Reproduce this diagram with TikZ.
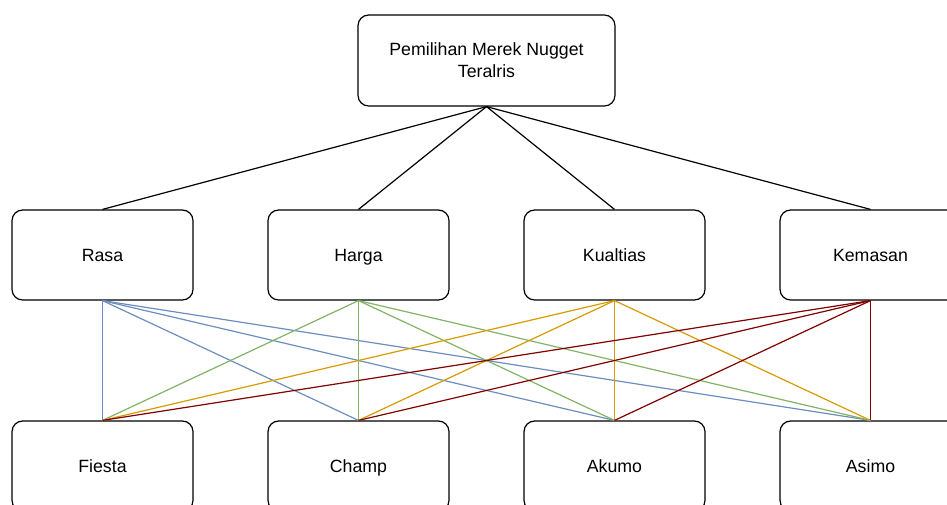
\documentclass[tikz,border=0pt]{standalone}
\usepackage{fontspec}
\setmainfont{Liberation Sans}
\usepackage{xcolor}
\usetikzlibrary{positioning}

\definecolor{rasaclr}{HTML}{6C8EBF}
\definecolor{hargaclr}{HTML}{82B366}
\definecolor{kualclr}{HTML}{D79B00}
\definecolor{kemasclr}{HTML}{800000}

\begin{document}
\begin{tikzpicture}[
  x=0.75pt, y=-0.75pt,
  font=\fontsize{13.3}{16.5}\selectfont,
  goal/.style={draw=black, rounded corners=8pt, line width=0.9pt, align=center,
    minimum width=192.75pt, minimum height=68.25pt, fill=white, inner sep=0pt},
  crit/.style={draw=black, rounded corners=8pt, line width=0.9pt, align=center,
    minimum width=135.75pt, minimum height=67.5pt, fill=white, inner sep=0pt,
    text height=0.92em, text depth=0pt},
  link/.style={line width=0.9pt},
  node distance=55.35pt
]
\useasboundingbox (0,0) rectangle (947,504);
\clip (0,0) rectangle (947,504);

% goal
\node[goal] (goal) at (486.5,60.5) {Pemilihan Merek Nugget\\Teralris};

% criteria
\node[crit] (rasa) at (102.5,255) {Rasa};
\node[crit, right=of rasa] (harga) {Harga};
\node[crit, right=of harga] (kualitas) {Kualtias};
\node[crit, right=of kualitas] (kemasan) {Kemasan};

% alternatives
\node[crit, below=89.85pt of rasa] (fiesta) {Fiesta};
\node[crit, below=89.85pt of harga] (champ) {Champ};
\node[crit, below=89.85pt of kualitas] (akumo) {Akumo};
\node[crit, below=89.85pt of kemasan] (asimo) {Asimo};

\draw[link] (goal.south) -- (rasa.north);
\draw[link] (goal.south) -- (harga.north);
\draw[link] (goal.south) -- (kualitas.north);
\draw[link] (goal.south) -- (kemasan.north);

\foreach \alt in {fiesta,champ,akumo,asimo}
  \draw[link, draw=rasaclr] (rasa.south) -- (\alt.north);
\foreach \alt in {fiesta,champ,akumo,asimo}
  \draw[link, draw=hargaclr] (harga.south) -- (\alt.north);
\foreach \alt in {fiesta,champ,akumo,asimo}
  \draw[link, draw=kualclr] (kualitas.south) -- (\alt.north);
\foreach \alt in {fiesta,champ,akumo,asimo}
  \draw[link, draw=kemasclr] (kemasan.south) -- (\alt.north);
\end{tikzpicture}
\end{document}
